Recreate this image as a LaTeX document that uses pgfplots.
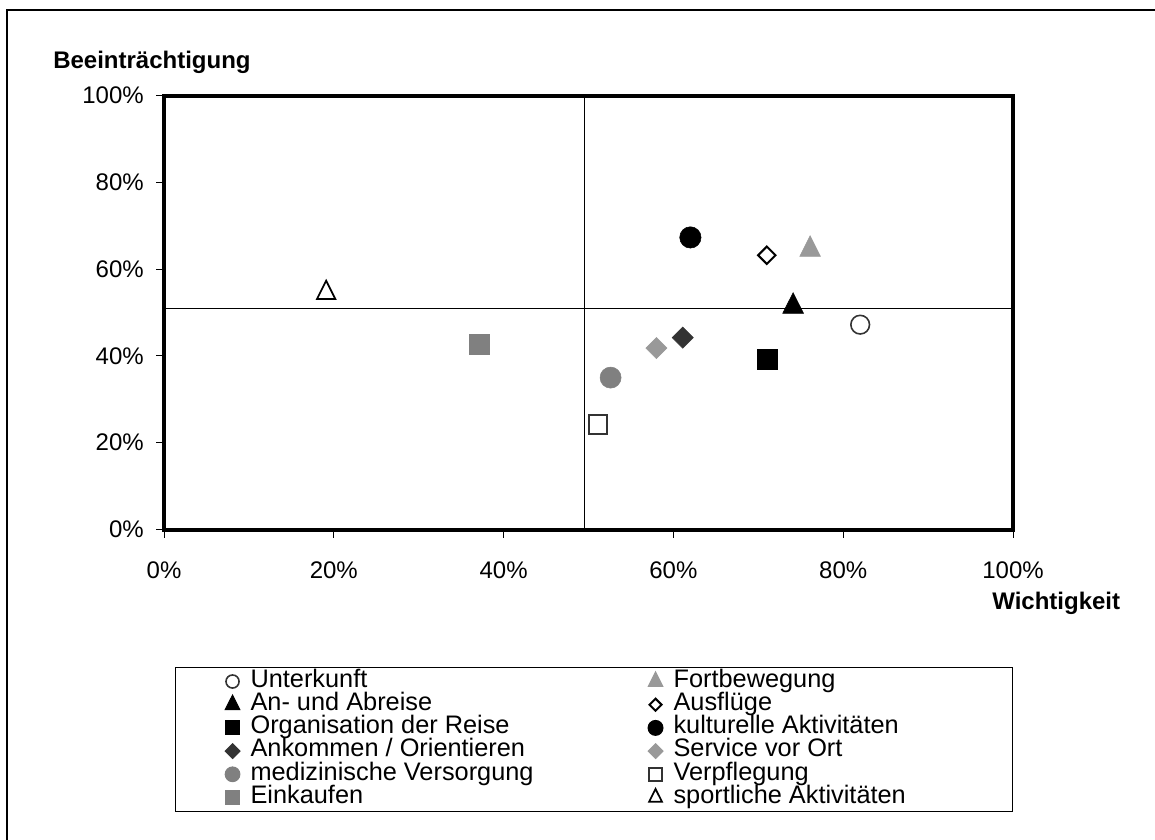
\documentclass[border=0pt]{standalone}
\usepackage{pgfplots}
\pgfplotsset{compat=1.18}
\usepackage{fontspec}
\setmainfont{Liberation Sans}
\definecolor{gl}{HTML}{999999}
\definecolor{gm}{HTML}{808080}
\definecolor{gd}{HTML}{333333}
\begin{document}
\begin{tikzpicture}
\useasboundingbox (0pt,0pt) rectangle (866.25pt,-629.25pt);
\draw[line width=1.5pt] (5.25pt,-660pt) -- (5.25pt,-7.5pt) -- (900pt,-7.5pt);
\begin{axis}[
  at={(123pt,-397.125pt)}, anchor=south west,
  scale only axis, width=636.75pt, height=325.5pt,
  xmin=0, xmax=100, ymin=0, ymax=100,
  xtick={0,20,...,100}, ytick={0,20,...,100},
  xticklabels={0\%,20\%,40\%,60\%,80\%,100\%},
  yticklabels={0\%,20\%,40\%,60\%,80\%,100\%},
  xtick pos=bottom, ytick pos=left,
  axis line style={line width=3pt},
  tick align=outside, major tick length=6pt,
  major tick style={line width=0.75pt, black},
  tick label style={font=\fontsize{18}{20}\selectfont, inner sep=0pt},
  xticklabel style={anchor=north, yshift=-18pt},
  yticklabel style={anchor=east, xshift=-9pt},
  clip=false,
  only marks,
  legend image code/.code={\path[draw=none,fill=none] (-7pt,0pt) -- (13.5pt,0pt); \draw[#1] plot coordinates {(0pt,0pt)};},
  legend image post style={/tikz/every mark/.append style={scale=0.7}},
  legend columns=2,
  legend cell align=left,
  legend style={at={(0.013,-0.3168)}, anchor=north west,
    draw=black, line width=0.75pt,
    inner xsep=35.75pt, inner ysep=1.8pt,
    column sep=0pt, row sep=0pt,
    font=\fontsize{19}{19}\selectfont,
    nodes={inner sep=0pt, text height=13pt, text depth=4.4pt, anchor=west}},
]
\addplot[sharp plot, no marks, black, line width=0.75pt, forget plot] coordinates {(49.5,0) (49.5,100)};
\addplot[sharp plot, no marks, black, line width=0.75pt, forget plot] coordinates {(0,50.9) (100,50.9)};

\addplot[mark=*, mark size=7pt, mark options={fill=white, draw=gd, line width=1.2pt}] coordinates {(82.0,47.2)};
\addlegendentry{\makebox[296.75pt][l]{Unterkunft}}
\addplot[mark=triangle*, mark size=9pt, mark options={fill=gl, draw=gl, yscale=1.15}] coordinates {(76.1,64.5)};
\addlegendentry{\makebox[218.5pt][l]{Fortbewegung}}
\addplot[mark=triangle*, mark size=9pt, mark options={fill=black, draw=black, yscale=1.15}] coordinates {(74.1,51.4)};
\addlegendentry{\makebox[296.75pt][l]{An- und Abreise}}
\addplot[mark=square*, mark size=4.6pt, mark options={rotate=45, fill=white, draw=black, line width=1.5pt}] coordinates {(71.0,63.2)};
\addlegendentry{\makebox[218.5pt][l]{Ausflüge}}
\addplot[mark=square*, mark size=7.5pt, mark options={fill=black, draw=black}] coordinates {(71.1,39.2)};
\addlegendentry{\makebox[296.75pt][l]{Organisation der Reise}}
\addplot[mark=*, mark size=8pt, mark options={fill=black, draw=black}] coordinates {(62.0,67.3)};
\addlegendentry{\makebox[218.5pt][l]{kulturelle Aktivitäten}}
\addplot[mark=square*, mark size=5.6pt, mark options={rotate=45, fill=gd, draw=gd}] coordinates {(61.1,44.2)};
\addlegendentry{\makebox[296.75pt][l]{Ankommen / Orientieren}}
\addplot[mark=square*, mark size=5.6pt, mark options={rotate=45, fill=gl, draw=gl}] coordinates {(58.0,41.8)};
\addlegendentry{\makebox[218.5pt][l]{Service vor Ort}}
\addplot[mark=*, mark size=7.9pt, mark options={fill=gm, draw=gm}] coordinates {(52.6,35.0)};
\addlegendentry{\makebox[296.75pt][l]{medizinische Versorgung}}
\addplot[mark=square*, mark size=7pt, mark options={fill=white, draw=gd, line width=1.5pt}] coordinates {(51.1,24.2)};
\addlegendentry{\makebox[218.5pt][l]{Verpflegung}}
\addplot[mark=square*, mark size=7.5pt, mark options={fill=gm, draw=gm}] coordinates {(37.1,42.7)};
\addlegendentry{\makebox[296.75pt][l]{Einkaufen}}
\addplot[mark=triangle*, mark size=8pt, mark options={fill=white, draw=black, line width=1.3pt, yscale=1.15}] coordinates {(19.1,54.5)};
\addlegendentry{\makebox[218.5pt][l]{sportliche Aktivitäten}}

\node[anchor=base west, font=\bfseries\fontsize{18}{20}\selectfont, inner sep=0pt] at (rel axis cs:-0.1307,1.0622) {Beeinträchtigung};
\node[anchor=base west, font=\bfseries\fontsize{18}{20}\selectfont, inner sep=0pt] at (rel axis cs:0.9753,-0.1832) {Wichtigkeit};
\end{axis}
\end{tikzpicture}
\end{document}
